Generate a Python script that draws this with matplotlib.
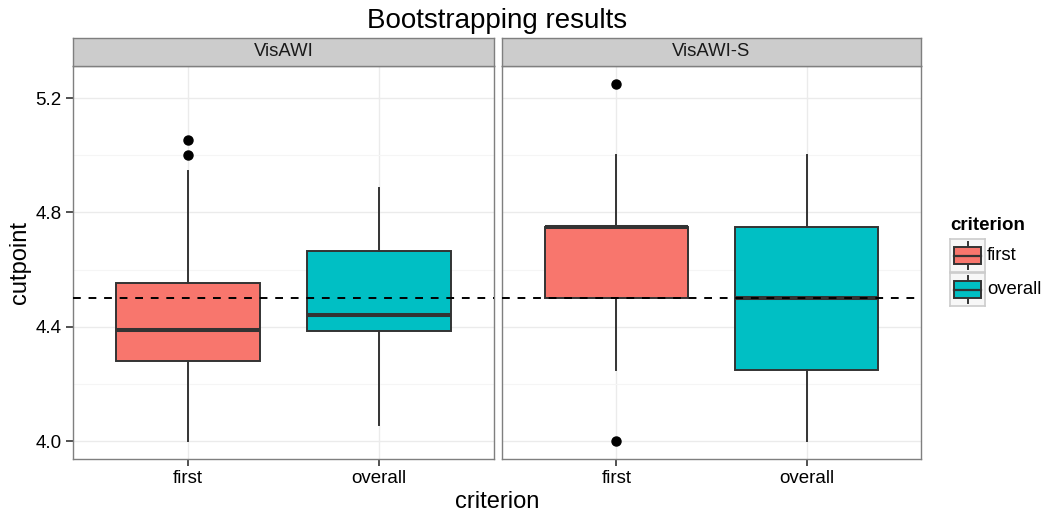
import matplotlib
matplotlib.use("Agg")
import matplotlib.pyplot as plt
from matplotlib.patches import Rectangle

plt.rcParams["font.family"] = ["Liberation Sans", "DejaVu Sans"]

panels = ["VisAWI", "VisAWI-S"]
criteria = ["first", "overall"]
colors = {"first": "#F8766D", "overall": "#00BFC4"}

# box statistics per panel: [first, overall]
q1 = [[4.279, 4.387], [4.50, 4.25]]
med = [[4.390, 4.443], [4.75, 4.50]]
q3 = [[4.555, 4.666], [4.75, 4.75]]
whislo = [[4.00, 4.056], [4.25, 4.00]]
whishi = [[4.944, 4.886], [5.00, 5.00]]
fliers = [[[5.0, 5.055], []], [[5.25, 4.0], []]]

cutoff = 4.5
yticks = [4.0, 4.4, 4.8, 5.2]
yminor = [4.2, 4.6, 5.0]

W, H = 1043, 513
fig = plt.figure(figsize=(W / 100, H / 100), dpi=100)

panel_x = [(73, 494), (502, 921)]
top, bottom = 66, 459
strip_top = 38

edge = "#333333"
for i, (x0, x1) in enumerate(panel_x):
    ax = fig.add_axes([x0 / W, (H - bottom) / H, (x1 - x0) / W, (bottom - top) / H])
    stats = []
    for j, c in enumerate(criteria):
        stats.append(dict(med=med[i][j], q1=q1[i][j], q3=q3[i][j],
                          whislo=whislo[i][j], whishi=whishi[i][j],
                          fliers=fliers[i][j], label=c))
    bp = ax.bxp(stats, positions=[1, 2], widths=0.75, patch_artist=True,
                showcaps=False, zorder=3,
                boxprops=dict(edgecolor=edge, linewidth=1.4),
                medianprops=dict(color=edge, linewidth=2.9, solid_capstyle="butt"),
                whiskerprops=dict(color=edge, linewidth=1.4),
                flierprops=dict(marker="o", markerfacecolor="black",
                                markeredgecolor="black", markersize=6.5))
    for patch, c in zip(bp["boxes"], criteria):
        patch.set_facecolor(colors[c])
    ax.axhline(cutoff, color="black", linestyle=(0, (4, 4)), linewidth=1.4, zorder=4)

    ax.set_xlim(0.4, 2.6)
    ax.set_ylim(3.9375, 5.3125)
    ax.set_yticks(yticks)
    ax.set_yticks(yminor, minor=True)
    ax.set_xticks([1, 2])
    ax.set_xticklabels(criteria)
    ax.grid(True, which="major", color="#EBEBEB", linewidth=1.0, zorder=0)
    ax.grid(True, which="minor", axis="y", color="#F5F5F5", linewidth=0.8, zorder=0)
    ax.set_axisbelow(True)
    ax.tick_params(axis="both", which="major", labelsize=13.5, length=5,
                   color="#333333", labelcolor="black", width=1.2, pad=3)
    ax.tick_params(axis="y", which="minor", length=0)
    if i == 0:
        ax.set_yticklabels([f"{v:.1f}" for v in yticks])
    else:
        ax.tick_params(axis="y", left=False, labelleft=False)
    for s in ax.spines.values():
        s.set_color("#7F7F7F")
        s.set_linewidth(1.0)

    # facet strip
    sax = fig.add_axes([x0 / W, (H - top) / H, (x1 - x0) / W, (top - strip_top) / H])
    sax.set_facecolor("#CCCCCC")
    sax.set_xticks([])
    sax.set_yticks([])
    for s in sax.spines.values():
        s.set_color("#7F7F7F")
        s.set_linewidth(1.0)
    sax.text(0.5, 0.5, panels[i], ha="center", va="center", fontsize=13.3,
             color="#1A1A1A", transform=sax.transAxes)

fig.text(497 / W, 1 - 21 / H, "Bootstrapping results", ha="center", va="center",
         fontsize=20)
fig.text(497 / W, 1 - 502 / H, "criterion", ha="center", va="center", fontsize=17)
fig.text(20 / W, 1 - 262 / H, "cutpoint", ha="center", va="center", fontsize=17,
         rotation=90)

# legend
fig.text(950 / W, 1 - 226 / H, "criterion", ha="left", va="center", fontsize=13.5,
         fontweight="bold")
for k, c in enumerate(criteria):
    ky0 = 239 + k * 34
    kax = fig.add_axes([950 / W, (H - ky0 - 33) / H, 35 / W, 33 / H])
    kax.set_xlim(0, 1)
    kax.set_ylim(0, 1)
    kax.set_xticks([])
    kax.set_yticks([])
    kax.set_facecolor("#F7F7F7")
    for s in kax.spines.values():
        s.set_color("#CCCCCC")
        s.set_linewidth(1.2)
    kax.plot([0.5, 0.5], [0.1, 0.9], color=edge, linewidth=1.4)
    kax.add_patch(Rectangle((0.12, 0.24), 0.76, 0.52, facecolor=colors[c],
                            edgecolor=edge, linewidth=1.4, zorder=3))
    kax.plot([0.12, 0.88], [0.5, 0.5], color=edge, linewidth=1.6, zorder=4)
    fig.text(987 / W, 1 - (ky0 + 17) / H, c, ha="left", va="center", fontsize=13.3)

fig.savefig("out.png", dpi=100)
